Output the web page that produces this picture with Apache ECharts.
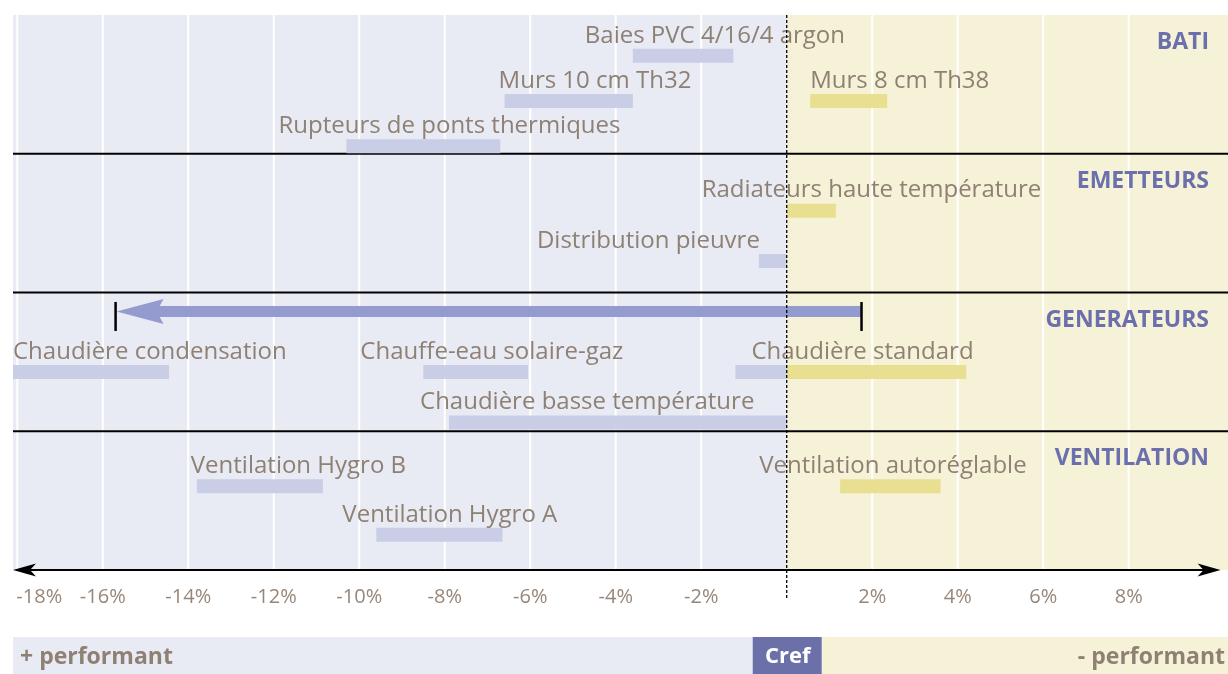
<!DOCTYPE html>
<html>
<head>
<meta charset="utf-8">
<script src="https://cdn.jsdelivr.net/npm/echarts@6/dist/echarts.min.js"></script>
<style>
html, body { margin: 0; padding: 0; background: #fff; }
#chart { width: 1228px; height: 674px; }
</style>
</head>
<body>
<div id="chart"></div>
<script>
// écarts par rapport à Cref, en %
const sectionNames = ['BATI', 'EMETTEURS', 'GENERATEURS', 'VENTILATION'];
const itemNames = [
  'Baies PVC 4/16/4 argon', 'Murs 10 cm Th32', 'Rupteurs de ponts thermiques', 'Murs 8 cm Th38',
  'Radiateurs haute température', 'Distribution pieuvre',
  'Chaudière condensation', 'Chauffe-eau solaire-gaz', 'Chaudière standard', 'Chaudière basse température',
  'Ventilation Hygro B', 'Ventilation autoréglable', 'Ventilation Hygro A'
];
const itemSection = [0, 0, 0, 0, 1, 1, 2, 2, 2, 2, 3, 3, 3];
const itemSlot = [0, 1, 2, 1, 0, 1, 1, 1, 1, 2, 0, 0, 1];
const itemStart = [-3.6, -6.6, -10.3, 0.55, 0, -0.65, -18.1, -8.5, -1.2, -7.9, -13.8, 1.25, -9.6];
const itemEnd = [-1.25, -3.6, -6.7, 2.35, 1.15, 0, -14.45, -6.05, 4.2, 0, -10.85, 3.6, -6.65];
const generatorRange = [-15.7, 1.75];
const tickValues = [-18, -16, -14, -12, -10, -8, -6, -4, -2, 2, 4, 6, 8];

// mise en page
const xMin = -18.1, xMax = 10.3, axisEnd = 10.15;
const ROWS = 12;
const rowPad = [0.88, 1.23, 0.63, 1.19];
const rowStep = [0.98, 1.09, 1.09, 1.05];
const arrowRow = 6.41;
const labelDx = [-48, -6, -68, 0, -85, -222, 0, -63, 16, -29, -6, -81, -34];

const FONT = '"Open Sans", "Noto Sans", sans-serif';
const TEXT = '#8f8074';
const TICK = '#978679';
const LAV = '#e8eaf4', YEL = '#f6f2d7';
const BAR_LAV = '#c9cde6', BAR_YEL = '#e9df91';
const TITLE = '#6b70ad';
const ARROW = '#939bcf';

let rowOf = (i) => {
  const s = itemSection[i];
  return s * 3 + rowPad[s] + itemSlot[i] * rowStep[s];
};

let myChart = echarts.init(document.getElementById('chart'));

let option = {
  animation: false,
  grid: { left: 13, right: 1, top: 15, bottom: 104, containLabel: false, outerBoundsMode: 'none' },
  xAxis: {
    type: 'value',
    min: xMin,
    max: xMax,
    axisLine: { show: false },
    splitLine: { show: false },
    axisTick: {
      customValues: tickValues,
      length: 11,
      lineStyle: { color: '#000', width: 2 }
    },
    axisLabel: {
      customValues: tickValues,
      // le premier libellé est décalé pour rester dans le cadre
      formatter: (v) => (v === tickValues[0] ? '{first|' + v + '%}' : v + '%'),
      rich: {
        first: { padding: [0, 0, 0, 44], color: TICK, fontSize: 20, fontFamily: FONT }
      },
      color: TICK,
      fontSize: 20,
      fontFamily: FONT,
      margin: 17
    }
  },
  yAxis: { type: 'value', min: 0, max: ROWS, inverse: true, show: false },
  series: [
    {
      // fonds + / - performant
      type: 'custom',
      z: 1,
      silent: true,
      data: [[xMin, 0], [0, xMax]],
      renderItem: (params, api) => {
        const p0 = api.coord([api.value(0), 0]);
        const p1 = api.coord([api.value(1), ROWS]);
        return {
          type: 'rect',
          shape: { x: p0[0], y: p0[1], width: p1[0] - p0[0] + 1, height: p1[1] - p0[1] },
          style: { fill: params.dataIndex === 0 ? LAV : YEL }
        };
      }
    },
    {
      // quadrillage
      type: 'custom',
      z: 2,
      silent: true,
      data: tickValues.map(v => [v]),
      renderItem: (params, api) => {
        const a = api.coord([api.value(0), 0]);
        const b = api.coord([api.value(0), ROWS]);
        return {
          type: 'line',
          shape: { x1: a[0], y1: a[1], x2: b[0], y2: b[1] },
          style: { stroke: '#fff', lineWidth: 2 }
        };
      }
    },
    {
      // axe à double flèche
      type: 'custom',
      z: 3,
      silent: true,
      data: [[xMin, axisEnd]],
      renderItem: (params, api) => {
        const a = api.coord([api.value(0), ROWS]);
        const b = api.coord([api.value(1), ROWS]);
        const y = a[1];
        return {
          type: 'group',
          children: [
            { type: 'line', shape: { x1: a[0] + 10, y1: y, x2: b[0] - 10, y2: y }, style: { stroke: '#000', lineWidth: 2 } },
            { type: 'polygon', shape: { points: [[a[0], y], [a[0] + 23, y - 6.5], [a[0] + 17, y], [a[0] + 23, y + 6.5]] }, style: { fill: '#000' } },
            { type: 'polygon', shape: { points: [[b[0], y], [b[0] - 23, y - 6.5], [b[0] - 17, y], [b[0] - 23, y + 6.5]] }, style: { fill: '#000' } }
          ]
        };
      }
    },
    {
      // rubriques
      type: 'custom',
      z: 3,
      silent: true,
      data: sectionNames.map((n, k) => [k]),
      renderItem: (params, api) => {
        const k = api.value(0);
        const a = api.coord([xMin, k * 3]);
        const b = api.coord([xMax, k * 3]);
        const children = [{
          type: 'text',
          style: {
            text: sectionNames[k], x: b[0] - 18, y: a[1] + 27.5,
            fill: TITLE, font: 'bold 23px ' + FONT, align: 'right', verticalAlign: 'middle'
          }
        }];
        if (k > 0) {
          children.push({
            type: 'line',
            shape: { x1: a[0], y1: a[1], x2: b[0] + 1, y2: a[1] },
            style: { stroke: '#000', lineWidth: 2 }
          });
        }
        return { type: 'group', children: children };
      }
    },
    {
      // solutions
      type: 'custom',
      z: 4,
      silent: true,
      data: itemNames.map((n, i) => [itemStart[i], itemEnd[i], rowOf(i)]),
      renderItem: (params, api) => {
        const i = params.dataIndex;
        const s = api.value(0), e = api.value(1), r = api.value(2);
        const children = [];
        const h = 14;
        if (s < 0) {
          const a = api.coord([s, r]);
          const b = api.coord([Math.min(e, 0), r]);
          children.push({ type: 'rect', shape: { x: a[0], y: a[1] - h / 2, width: b[0] - a[0], height: h }, style: { fill: BAR_LAV } });
        }
        if (e > 0) {
          const a = api.coord([Math.max(s, 0), r]);
          const b = api.coord([e, r]);
          children.push({ type: 'rect', shape: { x: a[0], y: a[1] - h / 2, width: b[0] - a[0], height: h }, style: { fill: BAR_YEL } });
        }
        const p = api.coord([s, r]);
        children.push({
          type: 'text',
          style: {
            text: itemNames[i], x: p[0] + labelDx[i], y: p[1] - 20,
            fill: TEXT, font: '24px ' + FONT, align: 'left', verticalAlign: 'middle'
          }
        });
        return { type: 'group', children: children };
      }
    },
    {
      // plage des générateurs
      type: 'custom',
      z: 5,
      silent: true,
      data: [generatorRange],
      renderItem: (params, api) => {
        const l = api.coord([api.value(0), arrowRow]);
        const r = api.coord([api.value(1), arrowRow]);
        const y = l[1];
        return {
          type: 'group',
          children: [
            { type: 'rect', shape: { x: l[0] + 40, y: y - 5.5, width: r[0] - l[0] - 40, height: 11 }, style: { fill: ARROW } },
            { type: 'polygon', shape: { points: [[l[0] + 1, y], [l[0] + 48, y - 12.5], [l[0] + 41, y], [l[0] + 48, y + 12.5]] }, style: { fill: ARROW } },
            { type: 'line', shape: { x1: l[0], y1: y - 9.5, x2: l[0], y2: y + 19.5 }, style: { stroke: '#000', lineWidth: 2.5 } },
            { type: 'line', shape: { x1: r[0], y1: y - 9.5, x2: r[0], y2: y + 19.5 }, style: { stroke: '#000', lineWidth: 2.5 } }
          ]
        };
      }
    },
    {
      // référence Cref
      type: 'custom',
      z: 6,
      silent: true,
      data: [[0]],
      renderItem: (params, api) => {
        const top = api.coord([0, 0]);
        const bot = api.coord([0, ROWS]);
        const left = api.coord([xMin, ROWS]);
        const right = api.coord([xMax, ROWS]);
        const x = top[0];
        const by = bot[1] + 67;
        return {
          type: 'group',
          children: [
            { type: 'line', shape: { x1: x, y1: top[1], x2: x, y2: bot[1] + 30 }, style: { stroke: '#000', lineWidth: 1.3, lineDash: [3, 2] } },
            { type: 'rect', shape: { x: left[0], y: by, width: x - 34 - left[0], height: 40 }, style: { fill: LAV } },
            { type: 'rect', shape: { x: x + 35, y: by, width: right[0] + 1 - x - 35, height: 40 }, style: { fill: YEL } },
            { type: 'rect', shape: { x: x - 34, y: by, width: 69, height: 40 }, style: { fill: '#6c70a8' } },
            { type: 'text', style: { text: 'Cref', x: x + 1, y: by + 20, fill: '#fff', font: 'bold 22px ' + FONT, align: 'center', verticalAlign: 'middle' } },
            { type: 'text', style: { text: '+ performant', x: left[0] + 7, y: by + 20, fill: TEXT, font: 'bold 23px ' + FONT, align: 'left', verticalAlign: 'middle' } },
            { type: 'text', style: { text: '- performant', x: right[0] - 2, y: by + 20, fill: TEXT, font: 'bold 23px ' + FONT, align: 'right', verticalAlign: 'middle' } }
          ]
        };
      }
    }
  ]
};

option && myChart.setOption(option);
window.addEventListener('resize', function () {
  myChart.resize();
});
</script>
</body>
</html>
